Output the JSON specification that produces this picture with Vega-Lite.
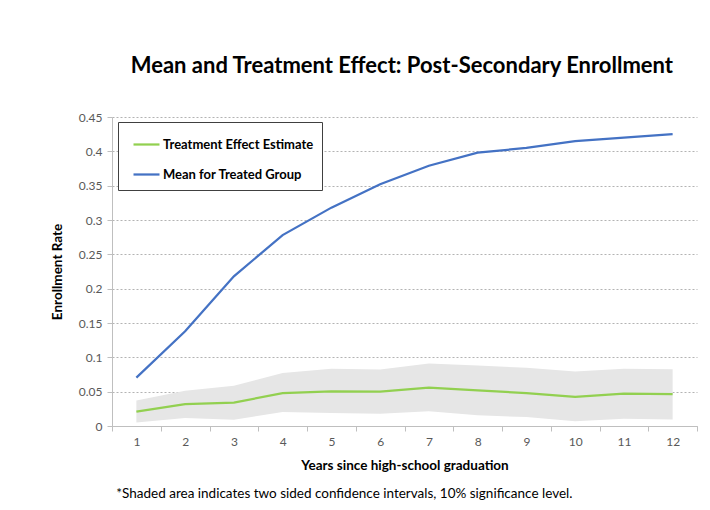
{
  "$schema": "https://vega.github.io/schema/vega-lite/v6.json",
  "background": "white",
  "padding": {"left": 50, "top": 55, "right": 5, "bottom": 5},
  "title": {
    "text": "Mean and Treatment Effect: Post-Secondary Enrollment",
    "font": "Lato",
    "fontSize": 22,
    "fontWeight": "bold",
    "color": "black",
    "anchor": "middle",
    "dx": 28,
    "offset": 33
  },
  "datasets": {
    "lines": [
      {"year": 1, "series": "Treatment Effect Estimate", "value": 0.021},
      {"year": 2, "series": "Treatment Effect Estimate", "value": 0.032},
      {"year": 3, "series": "Treatment Effect Estimate", "value": 0.034},
      {"year": 4, "series": "Treatment Effect Estimate", "value": 0.048},
      {"year": 5, "series": "Treatment Effect Estimate", "value": 0.0505},
      {"year": 6, "series": "Treatment Effect Estimate", "value": 0.05},
      {"year": 7, "series": "Treatment Effect Estimate", "value": 0.056},
      {"year": 8, "series": "Treatment Effect Estimate", "value": 0.052},
      {"year": 9, "series": "Treatment Effect Estimate", "value": 0.048},
      {"year": 10, "series": "Treatment Effect Estimate", "value": 0.0425},
      {"year": 11, "series": "Treatment Effect Estimate", "value": 0.047},
      {"year": 12, "series": "Treatment Effect Estimate", "value": 0.0465},
      {"year": 1, "series": "Mean for Treated Group", "value": 0.0705},
      {"year": 2, "series": "Mean for Treated Group", "value": 0.138},
      {"year": 3, "series": "Mean for Treated Group", "value": 0.218},
      {"year": 4, "series": "Mean for Treated Group", "value": 0.278},
      {"year": 5, "series": "Mean for Treated Group", "value": 0.318},
      {"year": 6, "series": "Mean for Treated Group", "value": 0.352},
      {"year": 7, "series": "Mean for Treated Group", "value": 0.379},
      {"year": 8, "series": "Mean for Treated Group", "value": 0.398},
      {"year": 9, "series": "Mean for Treated Group", "value": 0.405},
      {"year": 10, "series": "Mean for Treated Group", "value": 0.415},
      {"year": 11, "series": "Mean for Treated Group", "value": 0.42},
      {"year": 12, "series": "Mean for Treated Group", "value": 0.425}
    ],
    "band": [
      {"year": 1, "lower": 0.005, "upper": 0.037},
      {"year": 2, "lower": 0.0115, "upper": 0.0515},
      {"year": 3, "lower": 0.009, "upper": 0.0585},
      {"year": 4, "lower": 0.0205, "upper": 0.0772},
      {"year": 5, "lower": 0.019, "upper": 0.0832},
      {"year": 6, "lower": 0.018, "upper": 0.0822},
      {"year": 7, "lower": 0.0215, "upper": 0.091},
      {"year": 8, "lower": 0.0155, "upper": 0.088},
      {"year": 9, "lower": 0.013, "upper": 0.0847},
      {"year": 10, "lower": 0.007, "upper": 0.0792},
      {"year": 11, "lower": 0.0105, "upper": 0.0832},
      {"year": 12, "lower": 0.0095, "upper": 0.0828}
    ]
  },
  "vconcat": [
    {
      "width": 585,
      "height": 309,
      "title": {
        "text": "*Shaded area indicates two sided confidence intervals, 10% significance level.",
        "orient": "bottom",
        "anchor": "start",
        "font": "Lato",
        "fontSize": 13.5,
        "fontWeight": "normal",
        "color": "black",
        "dx": 66,
        "offset": 15
      },
      "encoding": {
        "x": {
          "field": "year",
          "type": "ordinal",
          "bandPosition": 0.5,
          "scale": {"type": "band", "paddingInner": 0, "paddingOuter": 0},
          "axis": {
            "title": "Years since high-school graduation",
            "labelAngle": 0,
            "tickBand": "extent",
            "grid": false,
            "tickSize": 5,
            "labelPadding": 5,
            "titlePadding": 11
          }
        }
      },
      "layer": [
        {
          "data": {"name": "band"},
          "mark": {"type": "area", "color": "#e6e6e6", "opacity": 1},
          "encoding": {
            "y": {
              "field": "lower",
              "type": "quantitative",
              "scale": {"domain": [0, 0.45], "nice": false},
              "axis": {
                "title": "Enrollment Rate",
                "values": [0, 0.05, 0.1, 0.15, 0.2, 0.25, 0.3, 0.35, 0.4, 0.45],
                "format": ".2~f",
                "labelOverlap": false,
                "grid": true,
                "gridColor": "#b3b3b3",
                "gridDash": [2, 2],
                "tickSize": 5,
                "labelPadding": 5,
                "titlePadding": 14
              }
            },
            "y2": {"field": "upper"}
          }
        },
        {
          "data": {"name": "lines"},
          "mark": {"type": "line", "strokeWidth": 2.25},
          "encoding": {
            "y": {
              "field": "value",
              "type": "quantitative",
              "scale": {"domain": [0, 0.45], "nice": false},
              "axis": {
                "title": "Enrollment Rate",
                "values": [0, 0.05, 0.1, 0.15, 0.2, 0.25, 0.3, 0.35, 0.4, 0.45],
                "format": ".2~f",
                "labelOverlap": false,
                "grid": true,
                "gridColor": "#b3b3b3",
                "gridDash": [2, 2],
                "tickSize": 5,
                "labelPadding": 5,
                "titlePadding": 14
              }
            },
            "color": {
              "field": "series",
              "type": "nominal",
              "sort": ["Treatment Effect Estimate", "Mean for Treated Group"],
              "scale": {
                "domain": ["Treatment Effect Estimate", "Mean for Treated Group"],
                "range": ["#92D050", "#4472C4"]
              },
              "legend": {
                "title": null,
                "orient": "none",
                "legendX": 6,
                "legendY": 5,
                "strokeColor": "#404040",
                "fillColor": "white",
                "padding": 8,
                "symbolType": "stroke",
                "symbolSize": 676,
                "symbolStrokeWidth": 2.25,
                "symbolOffset": 6,
                "labelOffset": 2,
                "labelFont": "Lato",
                "labelFontSize": 13,
                "labelFontWeight": "bold",
                "labelColor": "black",
                "rowPadding": 8
              }
            }
          }
        }
      ]
    }
  ],
  "config": {
    "view": {"stroke": null},
    "axis": {
      "domainColor": "#bfbfbf",
      "tickColor": "#bfbfbf",
      "labelColor": "#595959",
      "labelFont": "Lato",
      "labelFontSize": 12,
      "titleFont": "Lato",
      "titleFontSize": 13.5,
      "titleFontWeight": "bold",
      "titleColor": "black"
    }
  }
}
